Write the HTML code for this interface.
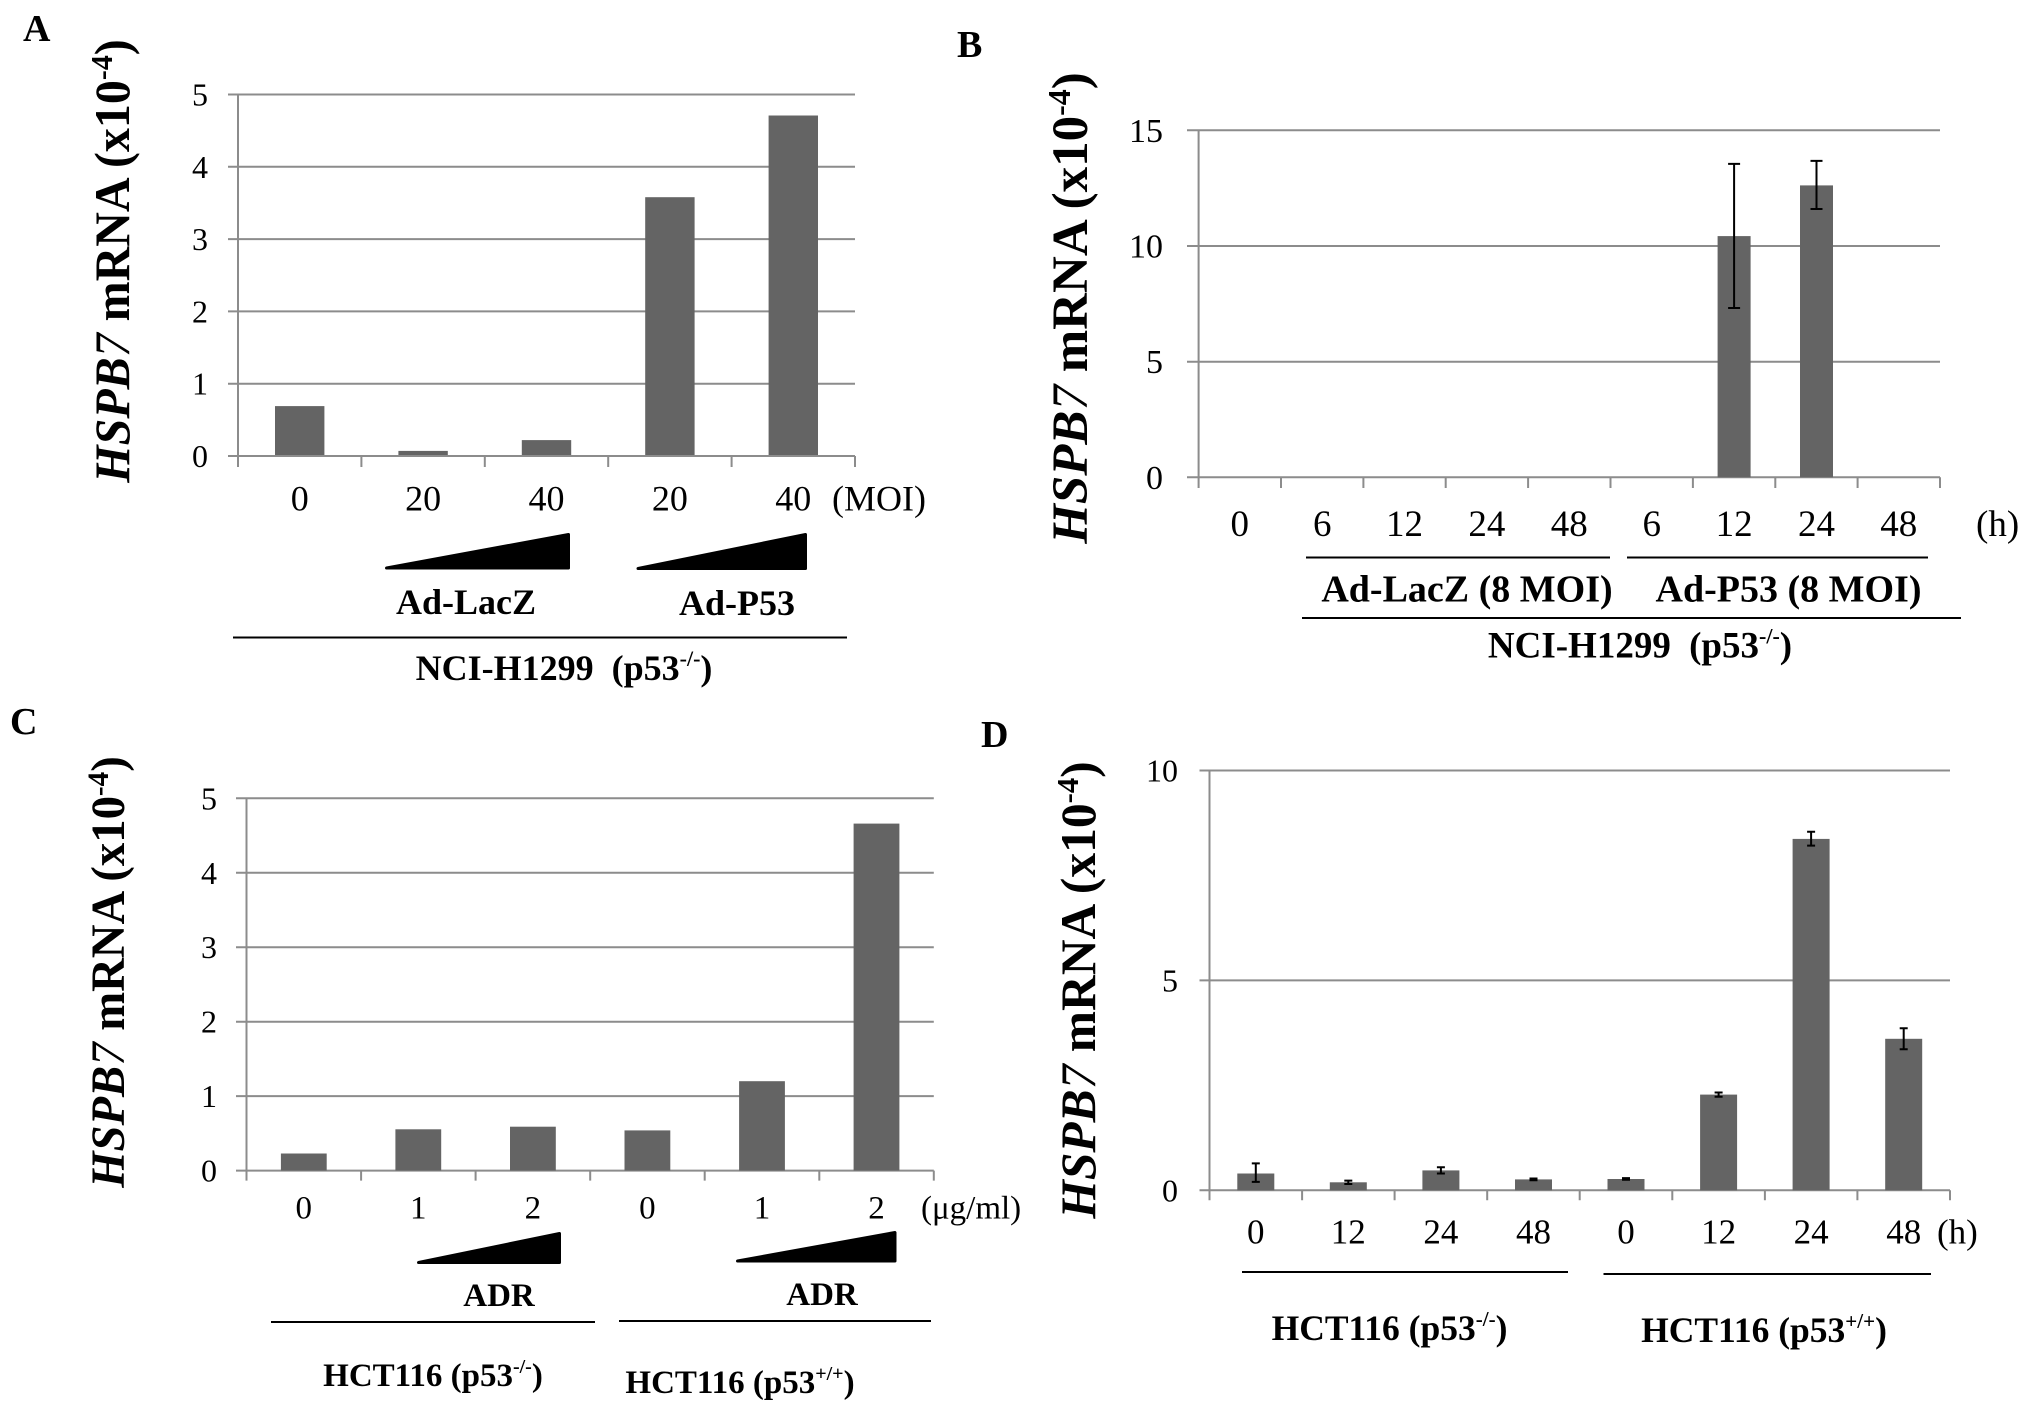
<!DOCTYPE html>
<html>
<head>
<meta charset="utf-8">
<style>
html,body{margin:0;padding:0;background:#fff;}
svg{display:block;}
text{font-family:"Liberation Serif","Times New Roman",serif;fill:#000;}
.b{font-weight:bold;}
.grid{stroke:#8c8c8c;stroke-width:2;fill:none;}
.ul{stroke:#000;stroke-width:2;fill:none;}
.bar{fill:#646464;}
.err{stroke:#000;stroke-width:2;fill:none;}
.tri{fill:#000;stroke:#000;stroke-width:3;stroke-linejoin:round;}
</style>
</head>
<body>
<svg width="2031" height="1416" viewBox="0 0 2031 1416" xmlns="http://www.w3.org/2000/svg">
<rect x="0" y="0" width="2031" height="1416" fill="#fff"/>

<!-- ================= PANEL A ================= -->
<text x="23" y="41" class="b" font-size="38">A</text>
<path class="grid" d="M228 94.5H855M228 166.8H855M228 239.1H855M228 311.4H855M228 383.7H855M228 456H855"/>
<rect class="bar" x="275" y="406.1" width="49.4" height="49.9"/>
<rect class="bar" x="398.4" y="450.9" width="49.4" height="5.1"/>
<rect class="bar" x="521.8" y="440.1" width="49.4" height="15.9"/>
<rect class="bar" x="645.2" y="197.2" width="49.4" height="258.8"/>
<rect class="bar" x="768.6" y="115.5" width="49.4" height="340.5"/>
<path class="grid" d="M238 94.5V467M361.4 456V467M484.8 456V467M608.2 456V467M731.6 456V467M855 456V467M228 456H855"/>
<g font-size="32" text-anchor="end">
<text x="208" y="105.5">5</text>
<text x="208" y="177.8">4</text>
<text x="208" y="250.1">3</text>
<text x="208" y="322.4">2</text>
<text x="208" y="394.7">1</text>
<text x="208" y="467">0</text>
</g>
<g font-size="36" text-anchor="middle">
<text x="299.7" y="510.5">0</text>
<text x="423.1" y="510.5">20</text>
<text x="546.5" y="510.5">40</text>
<text x="669.9" y="510.5">20</text>
<text x="793.3" y="510.5">40</text>
</g>
<text x="832" y="510.5" font-size="36">(MOI)</text>
<polygon class="tri" points="386.5,568 568.5,534.5 568.5,568"/>
<polygon class="tri" points="638,568.5 805.5,534.5 805.5,568.5"/>
<text x="466" y="614" class="b" font-size="36" text-anchor="middle">Ad-LacZ</text>
<text x="737" y="615" class="b" font-size="36" text-anchor="middle">Ad-P53</text>
<path class="ul" d="M233 637.5H847"/>
<text x="564" y="680" class="b" font-size="36" text-anchor="middle">NCI-H1299 <tspan dx="9">(p53</tspan><tspan font-size="22" dy="-14">-/-</tspan><tspan dy="14">)</tspan></text>
<text class="b" font-size="50" text-anchor="middle" transform="translate(129,261) rotate(-90) scale(0.96,1)"><tspan font-style="italic">HSPB</tspan><tspan font-style="italic" font-weight="normal">7</tspan> mRNA (x10<tspan font-size="31" dy="-17">-4</tspan><tspan dy="17">)</tspan></text>

<!-- ================= PANEL B ================= -->
<text x="957" y="57" class="b" font-size="38">B</text>
<path class="grid" d="M1187 130.3H1940M1187 246H1940M1187 361.7H1940M1187 477.3H1940"/>
<rect class="bar" x="1717.6" y="236.1" width="33" height="241.2"/>
<rect class="bar" x="1800" y="185.4" width="33" height="291.9"/>
<path class="grid" d="M1198.6 130.3V488M1281 477.3V488M1363.4 477.3V488M1445.7 477.3V488M1528.1 477.3V488M1610.5 477.3V488M1692.9 477.3V488M1775.3 477.3V488M1857.6 477.3V488M1940 477.3V488"/>
<path class="err" d="M1734.1 163.9V308M1728.1 163.9H1740.1M1728.1 308H1740.1M1816.5 160.9V209M1810.5 160.9H1822.5M1810.5 209H1822.5"/>
<g font-size="34" text-anchor="end">
<text x="1163" y="141.8">15</text>
<text x="1163" y="257.5">10</text>
<text x="1163" y="373.2">5</text>
<text x="1163" y="488.8">0</text>
</g>
<g font-size="37" text-anchor="middle">
<text x="1239.8" y="536">0</text>
<text x="1322.2" y="536">6</text>
<text x="1404.5" y="536">12</text>
<text x="1486.9" y="536">24</text>
<text x="1569.3" y="536">48</text>
<text x="1651.7" y="536">6</text>
<text x="1734.1" y="536">12</text>
<text x="1816.5" y="536">24</text>
<text x="1898.8" y="536">48</text>
</g>
<text x="1976" y="536" font-size="37">(h)</text>
<path class="ul" d="M1306 557.5H1610M1627 557.5H1928M1302 618H1961"/>
<text x="1467" y="601.5" class="b" font-size="38" text-anchor="middle">Ad-LacZ (8 MOI)</text>
<text x="1788.5" y="601.5" class="b" font-size="38" text-anchor="middle">Ad-P53 (8 MOI)</text>
<text x="1640" y="657.5" class="b" font-size="37" text-anchor="middle">NCI-H1299 <tspan dx="9">(p53</tspan><tspan font-size="22" dy="-14">-/-</tspan><tspan dy="14">)</tspan></text>
<text class="b" font-size="51" text-anchor="middle" transform="translate(1087,308) rotate(-90)"><tspan font-style="italic">HSPB</tspan><tspan font-style="italic" font-weight="normal">7</tspan> mRNA (x10<tspan font-size="32" dy="-17">-4</tspan><tspan dy="17">)</tspan></text>

<!-- ================= PANEL C ================= -->
<text x="10" y="734" class="b" font-size="38">C</text>
<path class="grid" d="M236 798.3H933.8M236 872.8H933.8M236 947.2H933.8M236 1021.7H933.8M236 1096.1H933.8M236 1170.6H933.8"/>
<rect class="bar" x="280.9" y="1153.5" width="45.8" height="17.1"/>
<rect class="bar" x="395.4" y="1129.3" width="45.8" height="41.3"/>
<rect class="bar" x="510" y="1126.7" width="45.8" height="43.9"/>
<rect class="bar" x="624.5" y="1130.4" width="45.8" height="40.2"/>
<rect class="bar" x="739.1" y="1081.2" width="45.8" height="89.4"/>
<rect class="bar" x="853.6" y="823.6" width="45.8" height="347"/>
<path class="grid" d="M246.5 798.3V1180.6M361.1 1170.6V1180.6M475.6 1170.6V1180.6M590.2 1170.6V1180.6M704.7 1170.6V1180.6M819.3 1170.6V1180.6M933.8 1170.6V1180.6"/>
<g font-size="32" text-anchor="end">
<text x="217" y="809.3">5</text>
<text x="217" y="883.8">4</text>
<text x="217" y="958.2">3</text>
<text x="217" y="1032.7">2</text>
<text x="217" y="1107.1">1</text>
<text x="217" y="1181.6">0</text>
</g>
<g font-size="33" text-anchor="middle">
<text x="303.8" y="1218.7">0</text>
<text x="418.3" y="1218.7">1</text>
<text x="532.9" y="1218.7">2</text>
<text x="647.4" y="1218.7">0</text>
<text x="762" y="1218.7">1</text>
<text x="876.5" y="1218.7">2</text>
</g>
<text x="921" y="1218.7" font-size="33">(μg/ml)</text>
<polygon class="tri" points="418.5,1262.5 559.5,1233.5 559.5,1262.5"/>
<polygon class="tri" points="737.5,1261 895,1232.5 895,1261"/>
<text x="499" y="1306" class="b" font-size="33" text-anchor="middle">ADR</text>
<text x="822" y="1305" class="b" font-size="33" text-anchor="middle">ADR</text>
<path class="ul" d="M271 1322H595M619 1321H931"/>
<text x="433" y="1386" class="b" font-size="33" text-anchor="middle">HCT116 (p53<tspan font-size="20" dy="-13">-/-</tspan><tspan dy="13">)</tspan></text>
<text x="740" y="1393" class="b" font-size="33" text-anchor="middle">HCT116 (p53<tspan font-size="20" dy="-13">+/+</tspan><tspan dy="13">)</tspan></text>
<text class="b" font-size="48" text-anchor="middle" transform="translate(124,972) rotate(-90) scale(0.973,1)"><tspan font-style="italic">HSPB</tspan><tspan font-style="italic" font-weight="normal">7</tspan> mRNA (x10<tspan font-size="30" dy="-16">-4</tspan><tspan dy="16">)</tspan></text>

<!-- ================= PANEL D ================= -->
<text x="981" y="747" class="b" font-size="38">D</text>
<path class="grid" d="M1199.5 770.5H1950M1199.5 980.4H1950M1199.5 1190.3H1950"/>
<rect class="bar" x="1237.3" y="1173.5" width="37" height="16.8"/>
<rect class="bar" x="1329.8" y="1182.3" width="37" height="8"/>
<rect class="bar" x="1422.4" y="1170.4" width="37" height="19.9"/>
<rect class="bar" x="1515" y="1179.4" width="37" height="10.9"/>
<rect class="bar" x="1607.5" y="1179" width="37" height="11.3"/>
<rect class="bar" x="1700.1" y="1094.6" width="37" height="95.7"/>
<rect class="bar" x="1792.6" y="838.9" width="37" height="351.4"/>
<rect class="bar" x="1885.2" y="1038.8" width="37" height="151.5"/>
<path class="grid" d="M1209.5 770.5V1200.3M1302.1 1190.3V1200.3M1394.6 1190.3V1200.3M1487.2 1190.3V1200.3M1579.7 1190.3V1200.3M1672.3 1190.3V1200.3M1764.9 1190.3V1200.3M1857.4 1190.3V1200.3M1950 1190.3V1200.3"/>
<path class="err" d="M1255.8 1163.4V1181.9M1251.8 1163.4H1259.8M1251.8 1181.9H1259.8
M1348.3 1180.6V1184M1344.3 1180.6H1352.3M1344.3 1184H1352.3
M1440.9 1167.2V1173.5M1436.9 1167.2H1444.9M1436.9 1173.5H1444.9
M1529.5 1178.5H1537.5M1529.5 1180.2H1537.5
M1622 1178.1H1630M1622 1179.8H1630
M1718.6 1092.5V1096.7M1714.6 1092.5H1722.6M1714.6 1096.7H1722.6
M1811.1 831.8V845.6M1807.1 831.8H1815.1M1807.1 845.6H1815.1
M1903.7 1028.3V1049.3M1899.7 1028.3H1907.7M1899.7 1049.3H1907.7"/>
<g font-size="32" text-anchor="end">
<text x="1178" y="781.5">10</text>
<text x="1178" y="991.4">5</text>
<text x="1178" y="1201.3">0</text>
</g>
<g font-size="35" text-anchor="middle">
<text x="1255.8" y="1243.4">0</text>
<text x="1348.3" y="1243.4">12</text>
<text x="1440.9" y="1243.4">24</text>
<text x="1533.5" y="1243.4">48</text>
<text x="1626" y="1243.4">0</text>
<text x="1718.6" y="1243.4">12</text>
<text x="1811.1" y="1243.4">24</text>
<text x="1903.7" y="1243.4">48</text>
</g>
<text x="1937" y="1243.4" font-size="35">(h)</text>
<path class="ul" d="M1242 1272H1568M1603.5 1274H1931"/>
<text x="1389.5" y="1340" class="b" font-size="35.5" text-anchor="middle">HCT116 (p53<tspan font-size="21" dy="-14">-/-</tspan><tspan dy="14">)</tspan></text>
<text x="1764" y="1342" class="b" font-size="35.5" text-anchor="middle">HCT116 (p53<tspan font-size="21" dy="-14">+/+</tspan><tspan dy="14">)</tspan></text>
<text class="b" font-size="50" text-anchor="middle" transform="translate(1095,990) rotate(-90) scale(0.99,1)"><tspan font-style="italic">HSPB</tspan><tspan font-style="italic" font-weight="normal">7</tspan> mRNA (x10<tspan font-size="31" dy="-17">-4</tspan><tspan dy="17">)</tspan></text>
</svg>
</body>
</html>
